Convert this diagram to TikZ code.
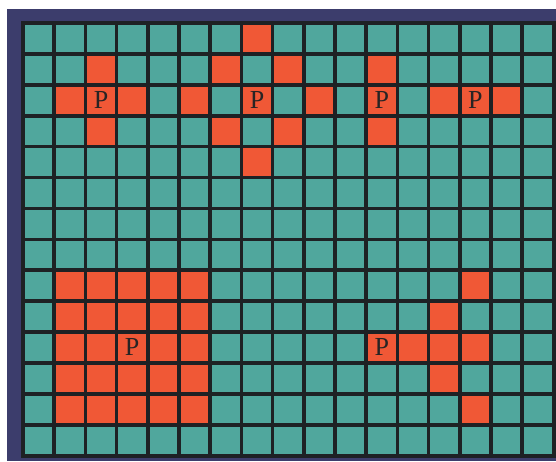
\documentclass[tikz,border=0pt]{standalone}
\usepackage{fontspec}
\usepackage{tikz}

\newfontfamily\markfont{Liberation Serif}

\definecolor{framenavy}{RGB}{60,61,108}
\definecolor{gridline}{RGB}{30,33,36}
\definecolor{tealcell}{RGB}{80,167,157}
\definecolor{redcell}{RGB}{240,88,54}
\definecolor{ink}{RGB}{40,36,36}

\begin{document}
\begin{tikzpicture}[
    x=1pt, y=-1pt,
    cell/.style={
        minimum width=27.6pt,
        minimum height=27.3pt,
        inner sep=0pt,
        fill=tealcell
    },
    hot/.style={cell, fill=redcell},
    marker/.style={font=\markfont\fontsize{26}{26}\selectfont, text=ink, inner sep=0pt}
]

\useasboundingbox (0,0) rectangle (556,461);
\fill[white] (0,0) rectangle (556,461);

% frame and grid lines
\fill[framenavy] (7,8.5) rectangle (556,461);
\fill[gridline] (21.2,21.2) rectangle (556,457.6);

% all cells
\foreach \r in {0,...,13}
    \foreach \c in {0,...,16}
        \node[cell] (c-\r-\c) at ({38.6+31.2*\c},{38.45+30.9*\r}) {};

% highlighted cells
\foreach \r/\c in {1/2,2/1,2/2,2/3,3/2,
                   0/7,1/6,1/8,2/5,2/7,2/9,3/6,3/8,4/7,
                   1/11,2/11,3/11,
                   2/13,2/14,2/15,
                   8/14,9/13,10/11,10/12,10/13,10/14,11/13,12/14}
    \node[hot] (h-\r-\c) at (c-\r-\c) {};

\foreach \r in {8,...,12}
    \foreach \c in {1,...,5}
        \node[hot] (h-\r-\c) at (c-\r-\c) {};

% centre markers
\node[marker] (p1) at (h-2-2) {P};
\node[marker] (p2) at (h-2-7) {P};
\node[marker] (p3) at (h-2-11) {P};
\node[marker] (p4) at (h-2-14) {P};
\node[marker] (p5) at (h-10-3) {P};
\node[marker] (p6) at (h-10-11) {P};

\end{tikzpicture}
\end{document}
